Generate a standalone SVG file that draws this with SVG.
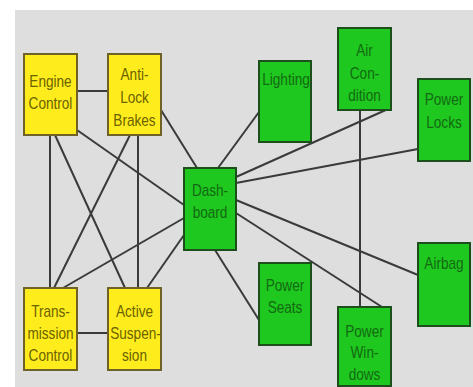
<svg xmlns="http://www.w3.org/2000/svg" width="473" height="387" viewBox="0 0 473 387">
<style>
.y{fill:#ffec1c;stroke:#6e6226;stroke-width:2}
.g{fill:#1ec81e;stroke:#1d4f1d;stroke-width:2}
.e{stroke:#3a3a3a;stroke-width:2;fill:none}
text{font-family:"Liberation Sans",Arial,sans-serif;font-size:16px;text-anchor:middle}
.ty{fill:#6b6200}
.tg{fill:#136a13}
</style>
<rect x="0" y="0" width="473" height="387" fill="#ffffff"/>
<rect x="15" y="10" width="458" height="377" fill="#dedede"/>
<g id="connectors">
<line class="e" x1="77" y1="91" x2="108" y2="91"/>
<line class="e" x1="77" y1="333" x2="108" y2="333"/>
<line class="e" x1="50" y1="135" x2="50" y2="288"/>
<line class="e" x1="55" y1="135" x2="125" y2="288"/>
<line class="e" x1="77" y1="130" x2="184" y2="205"/>
<line class="e" x1="130" y1="135" x2="54" y2="288"/>
<line class="e" x1="138" y1="135" x2="138" y2="288"/>
<line class="e" x1="161" y1="110" x2="197" y2="168"/>
<line class="e" x1="184" y1="218" x2="63" y2="288"/>
<line class="e" x1="184" y1="235" x2="147" y2="288"/>
<line class="e" x1="218" y1="168" x2="259" y2="112"/>
<line class="e" x1="236" y1="177" x2="388" y2="109"/>
<line class="e" x1="236" y1="183" x2="418" y2="149"/>
<line class="e" x1="236" y1="200" x2="418" y2="275"/>
<line class="e" x1="236" y1="213" x2="382" y2="307"/>
<line class="e" x1="215" y1="250" x2="259" y2="320"/>
<line class="e" x1="360" y1="110" x2="360" y2="307"/>
</g>
<g id="engine-control">
<rect class="y" x="24" y="54" width="53" height="81"/>
<text class="ty" transform="translate(50.5 87) scale(0.85 1)">Engine</text>
<text class="ty" transform="translate(50.5 109) scale(0.85 1)">Control</text>
</g>
<g id="anti-lock-brakes">
<rect class="y" x="108" y="54" width="53" height="81"/>
<text class="ty" transform="translate(134.5 80) scale(0.85 1)">Anti-</text>
<text class="ty" transform="translate(134.5 103) scale(0.85 1)">Lock</text>
<text class="ty" transform="translate(134.5 126) scale(0.85 1)">Brakes</text>
</g>
<g id="transmission-control">
<rect class="y" x="24" y="288" width="53" height="82"/>
<text class="ty" transform="translate(50.5 317) scale(0.85 1)">Trans-</text>
<text class="ty" transform="translate(50.5 339) scale(0.85 1)">mission</text>
<text class="ty" transform="translate(50.5 361) scale(0.85 1)">Control</text>
</g>
<g id="active-suspension">
<rect class="y" x="108" y="288" width="53" height="82"/>
<text class="ty" transform="translate(134.5 317) scale(0.85 1)">Active</text>
<text class="ty" transform="translate(135.5 339) scale(0.85 1)">Suspen-</text>
<text class="ty" transform="translate(134.5 361) scale(0.85 1)">sion</text>
</g>
<g id="dashboard">
<rect class="g" x="184" y="168" width="52" height="82"/>
<text class="tg" transform="translate(210 196) scale(0.85 1)">Dash-</text>
<text class="tg" transform="translate(210 218) scale(0.85 1)">board</text>
</g>
<g id="lighting">
<rect class="g" x="259" y="61" width="52" height="81"/>
<text class="tg" transform="translate(286 85) scale(0.85 1)">Lighting</text>
</g>
<g id="air-condition">
<rect class="g" x="338" y="28" width="53" height="82"/>
<text class="tg" transform="translate(364.5 56) scale(0.85 1)">Air</text>
<text class="tg" transform="translate(364.5 79) scale(0.85 1)">Con-</text>
<text class="tg" transform="translate(364.5 101) scale(0.85 1)">dition</text>
</g>
<g id="power-locks">
<rect class="g" x="418" y="79" width="52" height="82"/>
<text class="tg" transform="translate(444 105) scale(0.85 1)">Power</text>
<text class="tg" transform="translate(444 128) scale(0.85 1)">Locks</text>
</g>
<g id="airbag">
<rect class="g" x="418" y="243" width="52" height="83"/>
<text class="tg" transform="translate(444 269) scale(0.85 1)">Airbag</text>
</g>
<g id="power-seats">
<rect class="g" x="259" y="263" width="52" height="82"/>
<text class="tg" transform="translate(285 291) scale(0.85 1)">Power</text>
<text class="tg" transform="translate(285 313) scale(0.85 1)">Seats</text>
</g>
<g id="power-windows">
<rect class="g" x="338" y="307" width="53" height="79"/>
<text class="tg" transform="translate(364.5 337) scale(0.85 1)">Power</text>
<text class="tg" transform="translate(364.5 358) scale(0.85 1)">Win-</text>
<text class="tg" transform="translate(364.5 380) scale(0.85 1)">dows</text>
</g>
</svg>
